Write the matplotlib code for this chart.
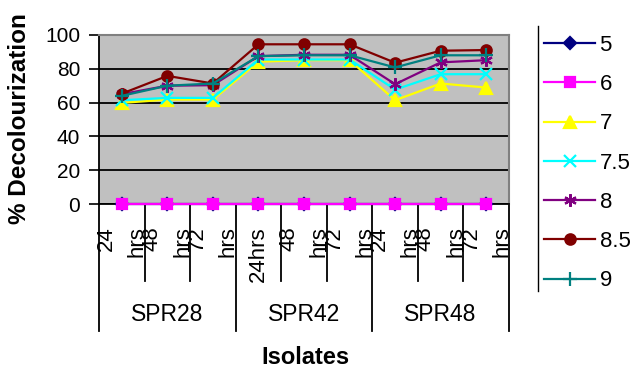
import numpy as np
import matplotlib
matplotlib.use("Agg")
import matplotlib.pyplot as plt
from matplotlib.lines import Line2D

plt.rcParams['font.family'] = ['Liberation Sans', 'DejaVu Sans']

# data
groups = ['SPR28', 'SPR42', 'SPR48']
times = ['24\nhrs', '48\nhrs', '72\nhrs', '24hrs', '48\nhrs', '72\nhrs', '24\nhrs', '48\nhrs', '72\nhrs']
ph_labels = ['5', '6', '7', '7.5', '8', '8.5', '9']

ph5 = [0, 0, 0, 0, 0, 0, 0, 0, 0]
ph6 = [0, 0, 0, 0, 0, 0, 0, 0, 0]
ph7 = [59.8, 61.8, 61.8, 84.2, 85.1, 85.1, 61.4, 71.3, 68.9]
ph75 = [61.4, 62.8, 62.8, 85.5, 85.5, 85.5, 67.7, 76.8, 76.8]
ph8 = [65.0, 70.0, 70.3, 87.5, 88.3, 88.3, 70.9, 83.8, 85.1]
ph85 = [65.3, 75.8, 71.3, 94.5, 94.5, 94.5, 83.6, 90.7, 91.1]
ph9 = [64.0, 70.0, 71.3, 87.5, 88.0, 88.0, 80.8, 88.0, 88.0]

series = [ph5, ph6, ph7, ph75, ph8, ph85, ph9]
colors = ['#000080', '#FF00FF', '#FFFF00', '#00FFFF', '#800080', '#800000', '#008080']
markers = ['D', 's', '^', 'x', (6, 2, 0), 'o', '+']
msizes = [6, 7, 8, 8, 9, 7.5, 10]

fig = plt.figure(figsize=(6.32, 3.68), dpi=100)
W, H = 632, 368
ax = fig.add_axes([99 / W, 1 - 204 / H, 410 / W, 169 / H])
ax.set_facecolor('#C0C0C0')

x = np.arange(len(times)) + 0.5
handles = []
for vals, c, m, ms, lab in zip(series, colors, markers, msizes, ph_labels):
    h, = ax.plot(x, vals, color=c, marker=m, markersize=ms, lw=1.6,
                 markeredgecolor=c, markeredgewidth=1.6, label=lab, clip_on=False, zorder=3)
    handles.append(h)

ax.set_xlim(0, 9)
ax.set_ylim(0, 100)
ax.set_yticks(np.arange(0, 101, 20))
ax.yaxis.grid(True, color='black', lw=1.3)
ax.set_axisbelow(True)
ax.tick_params(axis='y', labelsize=15, length=7, width=1.2, direction='out', pad=6.5)
ax.set_xticks([])
for s in ['top', 'right']:
    ax.spines[s].set_color('#808080')
    ax.spines[s].set_linewidth(1.5)
for s in ['left', 'bottom']:
    ax.spines[s].set_color('black')
    ax.spines[s].set_linewidth(1.3)

# multi-level category axis
trans = ax.get_xaxis_transform()
for i in range(10):
    depth = -0.75 if i % 3 == 0 else -0.455
    ax.add_line(Line2D([i, i], [0, depth], transform=trans, color='black', lw=1.3, clip_on=False))
for xi, t in zip(x, times):
    ax.text(xi, -0.13, t, transform=trans, rotation=90, ha='center', va='top',
            multialignment='right', fontsize=16, linespacing=1.6)
for gi, g in enumerate(groups):
    ax.text(gi * 3 + 1.5, -0.655, g, transform=trans, ha='center', va='center', fontsize=16.5)

fig.text(20 / W, 1 - 119 / H, '% Decolourization', rotation=90, ha='center', va='center',
         fontsize=17.5, fontweight='bold')
fig.text(305 / W, 1 - 357 / H, 'Isolates', ha='center', va='center', fontsize=17, fontweight='bold')

# legend with a left border line
fig.add_artist(Line2D([538 / W, 538 / W], [1 - 26 / H, 1 - 291 / H], color='black', lw=1.0))
fig.legend(handles=handles, loc='upper left', bbox_to_anchor=(544 / W, 1 - 35 / H),
           frameon=False, fontsize=16, handlelength=2.3, handletextpad=0.2,
           labelspacing=0.82, borderaxespad=0, borderpad=0)

fig.savefig('out.png', dpi=100)
